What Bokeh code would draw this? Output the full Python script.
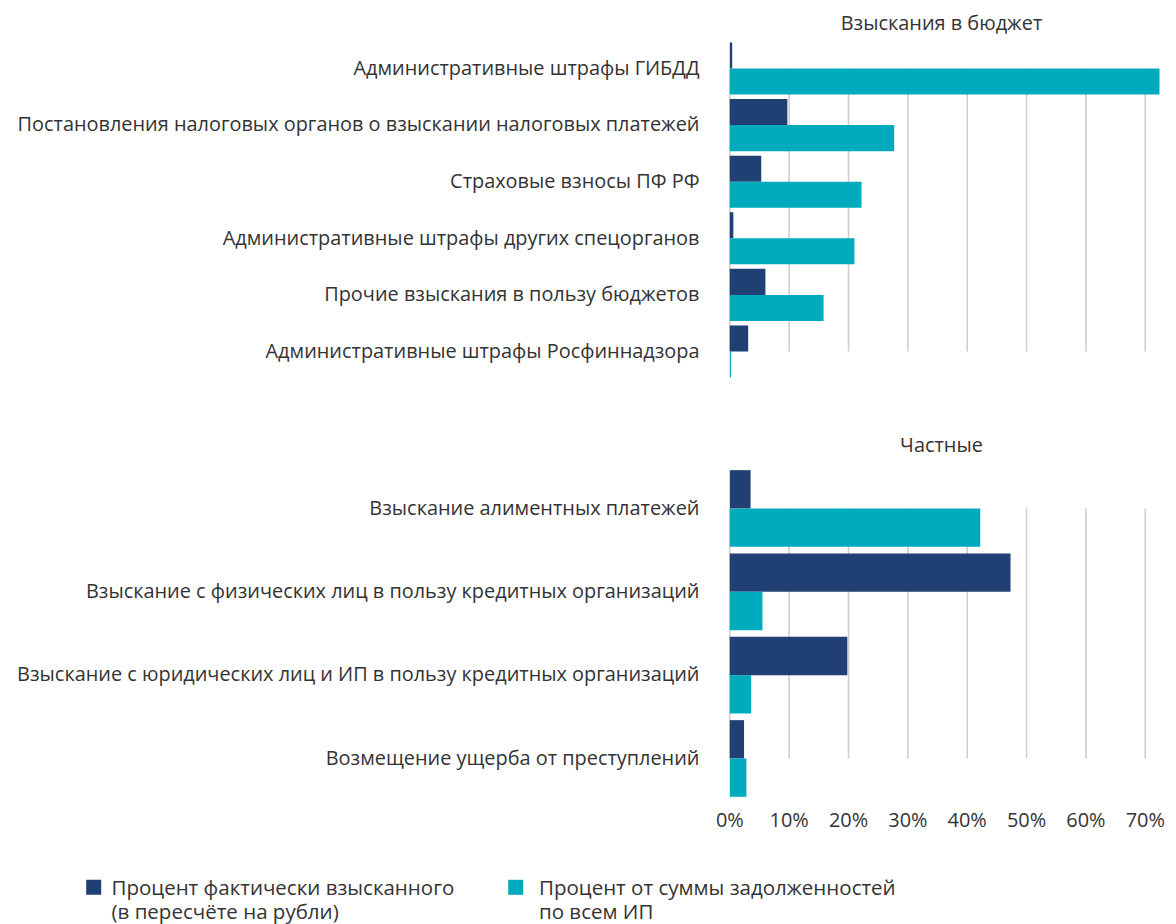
from bokeh.plotting import figure
from bokeh.models import Range1d
from bokeh.embed import file_html
from bokeh.resources import INLINE
from bokeh.core.properties import value

# ---------------- data ----------------
budget_title = "Взыскания в бюджет"
budget_cats = [
    "Административные штрафы ГИБДД",
    "Постановления налоговых органов о взыскании налоговых платежей",
    "Страховые взносы ПФ РФ",
    "Административные штрафы других спецорганов",
    "Прочие взыскания в пользу бюджетов",
    "Административные штрафы Росфиннадзора",
]
budget_collected = [0.4, 9.7, 5.3, 0.6, 6.0, 3.1]
budget_share = [72.4, 27.7, 22.2, 21.0, 15.8, 0.2]

private_title = "Частные"
private_cats = [
    "Взыскание алиментных платежей",
    "Взыскание с физических лиц в пользу кредитных организаций",
    "Взыскание с юридических лиц и ИП в пользу кредитных организаций",
    "Возмещение ущерба от преступлений",
]
private_collected = [3.5, 47.3, 19.8, 2.4]
private_share = [42.2, 5.5, 3.6, 2.8]

x_ticks = [0, 10, 20, 30, 40, 50, 60, 70]
x_tick_labels = ["0%", "10%", "20%", "30%", "40%", "50%", "60%", "70%"]
series_names = [
    ["Процент фактически взысканного", "(в пересчёте на рубли)"],
    ["Процент от суммы задолженностей", "по всем ИП"],
]

# ---------------- style / layout ----------------
DARK = "#203f72"
CYAN = "#00abbd"
GRID = "#cfcfcf"
TEXT = "#333333"
FONT = value("Open Sans")
FS = "19.9px"
FS_LEG = "20.5px"

W, H = 1176, 924
X0 = 729.3          # pixel of 0 %
PX_PER_PCT = 5.935  # pixels per 1 %
SHIFT = -8.5        # text baseline correction (px)


def panel_range(c0, step):
    # category units: category i centred at pixel c0 + i*step (top-down)
    return Range1d(start=(H - c0) / step, end=-c0 / step)


TOP_C0, TOP_STEP = 68.0, 56.6
BOT_C0, BOT_STEP = 508.0, 83.33

p = figure(width=W, height=H, output_backend="svg", toolbar_location=None,
           x_range=Range1d(-X0 / PX_PER_PCT, (W - X0) / PX_PER_PCT),
           y_range=Range1d(H, 0),
           x_axis_location=None, y_axis_location=None,
           min_border_left=0, min_border_right=0, min_border_top=0, min_border_bottom=0)
p.extra_y_ranges = {"top": panel_range(TOP_C0, TOP_STEP), "bot": panel_range(BOT_C0, BOT_STEP)}
p.extra_x_ranges = {"px": Range1d(0, W)}
p.outline_line_color = None
p.xgrid.visible = False
p.ygrid.visible = False
p.background_fill_color = "white"
p.border_fill_color = "white"

LABEL_X = (699 - X0) / PX_PER_PCT
TITLE_X = (941 - X0) / PX_PER_PCT
BAR_H = 0.46


def draw_panel(cats, collected, share, title, rname, step, title_base_px):
    n = len(cats)
    idx = list(range(n))
    # vertical gridlines from first to last category centre
    p.segment(x0=x_ticks, x1=x_ticks, y0=[0] * len(x_ticks), y1=[n - 1] * len(x_ticks),
              line_color=GRID, line_width=1.6, y_range_name=rname)
    p.hbar(y=[i - BAR_H / 2 for i in idx], left=0, right=collected, height=BAR_H,
           fill_color=DARK, line_color=None, y_range_name=rname)
    p.hbar(y=[i + BAR_H / 2 for i in idx], left=0, right=share, height=BAR_H,
           fill_color=CYAN, line_color=None, y_range_name=rname)
    # category labels, vertically centred on the category
    p.text(x=[LABEL_X] * n, y=[i + (7.2 + SHIFT) / step for i in idx], text=cats,
           text_align="right", text_baseline="alphabetic", text_font=FONT,
           text_font_size=FS, text_color=TEXT, y_range_name=rname)
    p.text(x=[TITLE_X], y=[(title_base_px + SHIFT) / step], text=[title],
           text_align="center", text_baseline="alphabetic", text_font=FONT,
           text_font_size=FS, text_color=TEXT, y_range_name=rname)
    return idx


draw_panel(budget_cats, budget_collected, budget_share, budget_title, "top", TOP_STEP, 30 - TOP_C0)
draw_panel(private_cats, private_collected, private_share, private_title, "bot", BOT_STEP, 452 - BOT_C0)

# x tick labels under the lower panel
p.text(x=x_ticks, y=[(827 + SHIFT - BOT_C0) / BOT_STEP] * len(x_ticks), text=x_tick_labels,
       text_align="center", text_baseline="alphabetic", text_font=FONT,
       text_font_size=FS, text_color=TEXT, y_range_name="bot")

# legend (pixel coordinates)
sq_x = [93.2, 515.2]
p.rect(x=sq_x, y=[886.8, 886.8], width=15, height=15, fill_color=[DARK, CYAN],
       line_color=None, x_range_name="px")
text_x = [111.0, 538.5]
for tx, lines in zip(text_x, series_names):
    p.text(x=[tx, tx], y=[894.5 + SHIFT, 918.5 + SHIFT], text=lines, text_align="left",
           text_baseline="alphabetic", text_font=FONT, text_font_size=FS_LEG,
           text_color=TEXT, x_range_name="px")

open("out.html", "w").write(file_html(p, INLINE))
